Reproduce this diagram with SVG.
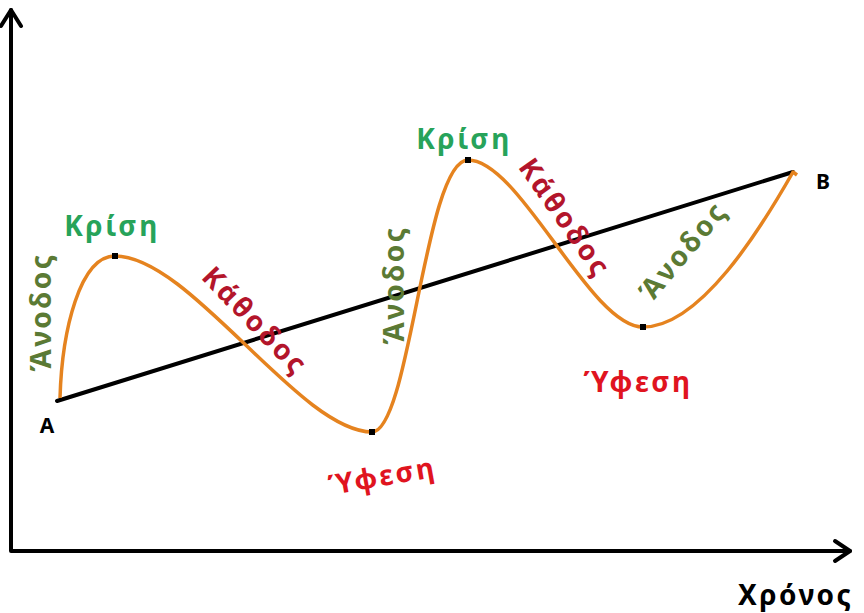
<svg xmlns="http://www.w3.org/2000/svg" width="864" height="613" viewBox="0 0 864 613">
<style>
text{font-family:"Noto Sans","Open Sans","DejaVu Sans",sans-serif;font-weight:bold;}
.lbl{font-size:28px;text-anchor:middle;dominant-baseline:central;letter-spacing:2.5px;}
.krisi{fill:#27a35a;}
.anodos{fill:#5b7a34;}
.kathodos{fill:#b3152b;}
.yfesi{fill:#e0141f;}
.pt{fill:#000;}
</style>
<rect width="864" height="613" fill="#fff"/>
<g id="axes" fill="none" stroke="#000" stroke-width="4" stroke-linejoin="round" stroke-linecap="round">
  <path d="M11,10 L11,551 L850,551"/>
  <path d="M1,26 L11,10 L21,26"/>
  <path d="M835,541 L850,551 L835,561"/>
</g>
<g id="connectors">
  <line x1="57" y1="401" x2="793" y2="172" stroke="#000" stroke-width="4" stroke-linecap="round"/>
  <path d="M60,398 C62,330 80,256 115,256 C190,256 300,432 372,432 C410,432 425,160 468,160 C520,160 590,327 643,327 C700,327 760,230 793,172 L797,175" fill="none" stroke="#e5831f" stroke-width="3.5" stroke-linejoin="round"/>
</g>
<g id="points">
  <rect class="pt" x="112" y="253" width="6" height="6"/>
  <rect class="pt" x="369" y="429" width="6" height="6"/>
  <rect class="pt" x="465" y="157" width="6" height="6"/>
  <rect class="pt" x="640" y="324" width="6" height="6"/>
</g>
<g id="label-A"><text x="47" y="433" font-size="21" text-anchor="middle">A</text></g>
<g id="label-B"><text x="823" y="189" font-size="21" text-anchor="middle">B</text></g>
<g id="krisi1"><text class="lbl krisi" x="112" y="225">Κρίση</text></g>
<g id="krisi2"><text class="lbl krisi" x="464" y="138">Κρίση</text></g>
<g id="anodos1"><text class="lbl anodos" transform="translate(40,312) rotate(-90)">Άνοδος</text></g>
<g id="anodos2"><text class="lbl anodos" transform="translate(393,285) rotate(-90)">Άνοδος</text></g>
<g id="anodos3"><text class="lbl anodos" transform="translate(682,250) rotate(-50)">Άνοδος</text></g>
<g id="kathodos1"><text class="lbl kathodos" transform="translate(256,320) rotate(46)">Κάθοδος</text></g>
<g id="kathodos2"><text class="lbl kathodos" transform="translate(566,217) rotate(55)">Κάθοδος</text></g>
<g id="yfesi1"><text class="lbl yfesi" transform="translate(382,475) rotate(-10)">Ύφεση</text></g>
<g id="yfesi2"><text class="lbl yfesi" x="638" y="381">Ύφεση</text></g>
<g id="xlabel"><text x="738" y="605" font-size="28" letter-spacing="2.5" fill="#000">Χρόνος</text></g>
</svg>
